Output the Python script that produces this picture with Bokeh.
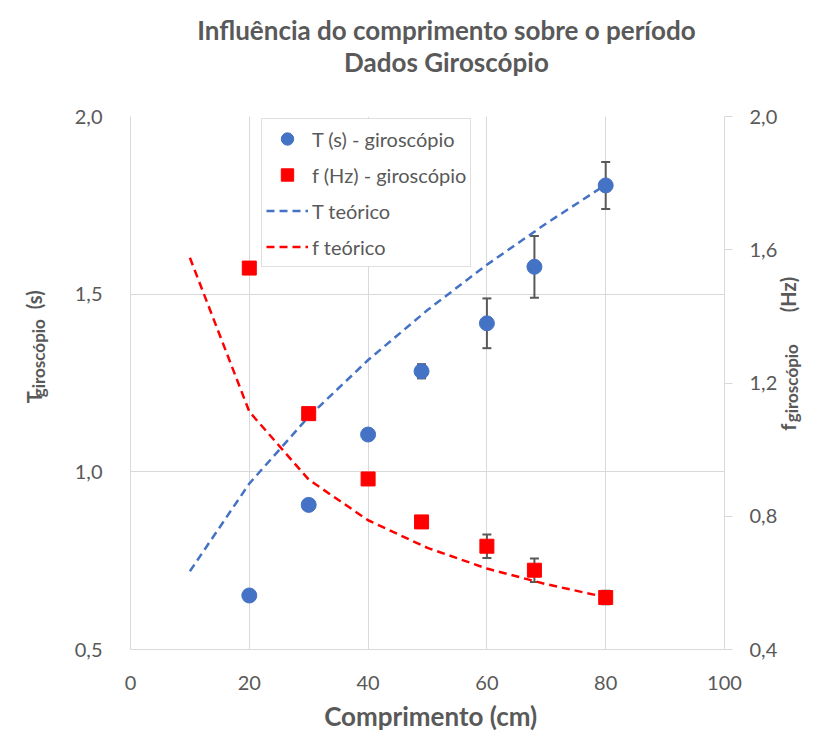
import math
from bokeh.plotting import figure
from bokeh.models import (Range1d, LinearAxis, FixedTicker, CustomJSTickFormatter, Title,
                          ColumnDataSource, Whisker, TeeHead, Legend, LegendItem)
from bokeh.embed import file_html
from bokeh.resources import INLINE

# ---------------- data ----------------
comprimento = [20, 30, 40, 49, 60, 68, 80]           # cm
T_giro = [0.652, 0.907, 1.105, 1.283, 1.418, 1.577, 1.806]   # s
T_err = [0.0, 0.0, 0.0, 0.02, 0.07, 0.087, 0.066]
f_giro = [1.545, 1.108, 0.912, 0.783, 0.710, 0.638, 0.556]   # Hz
f_err = [0.0, 0.0, 0.0, 0.0, 0.035, 0.035, 0.02]

L_teo = [10, 20, 30, 40, 50, 60, 70, 80]
T_teo = [0.635, 0.898, 1.099, 1.269, 1.419, 1.555, 1.679, 1.795]
f_teo = [1.576, 1.114, 0.910, 0.788, 0.705, 0.643, 0.596, 0.557]

x_ticks = [0, 20, 40, 60, 80, 100]
T_ticks = [0.5, 1.0, 1.5, 2.0]
f_ticks = [0.4, 0.8, 1.2, 1.6, 2.0]

# ---------------- style ----------------
FONT = "Lato"
TXT = "#595959"
GRID = "#d9d9d9"
BLUE = "#4472C4"
RED = "#FF0000"
NBSP_EM = 0.238
NB = "\u00a0"

def gap(px, size):
    return NB * max(0, round(px / (NBSP_EM * size)))

p = figure(width=815, height=748, x_range=Range1d(0, 100), y_range=Range1d(0.5, 2.0),
           output_backend="svg", toolbar_location=None,
           min_border_left=130, min_border_right=89, min_border_top=116, min_border_bottom=99,
           background_fill_color="white", border_fill_color="white", outline_line_color=None)
p.extra_y_ranges = {"f": Range1d(0.4, 2.0)}

fmt = CustomJSTickFormatter(code="return tick.toFixed(1).replace('.', ',');")

def bold_label(ax, text, size, standoff):
    ax.axis_label = text
    ax.axis_label_standoff = standoff
    ax.axis_label_text_font = FONT
    ax.axis_label_text_font_size = size
    ax.axis_label_text_font_style = "bold"
    ax.axis_label_text_color = TXT

def blank_axis(**kw):
    return LinearAxis(ticker=FixedTicker(ticks=[]), axis_line_color=None,
                      major_tick_line_color=None, minor_tick_line_color=None,
                      major_tick_out=0, major_tick_in=0, major_label_text_font_size="0px", **kw)

xa = p.xaxis[0]
xa.ticker = FixedTicker(ticks=x_ticks)
xa.major_tick_line_color = None
xa.minor_tick_line_color = None
xa.axis_line_color = GRID
xa.major_label_standoff = 20
xa.major_label_text_font = FONT
xa.major_label_text_font_size = "20px"
xa.major_label_text_color = TXT
bold_label(xa, gap(7, 26) + "Comprimento (cm)", "26px", 7)

ya = p.yaxis[0]
ya.ticker = FixedTicker(ticks=T_ticks)
ya.formatter = fmt
ya.major_tick_line_color = None
ya.minor_tick_line_color = None
ya.axis_line_color = GRID
ya.major_label_standoff = 22
ya.major_label_text_font = FONT
ya.major_label_text_font_size = "20px"
ya.major_label_text_color = TXT
# subscript of the left title
bold_label(ya, gap(47, 17) + "giroscópio", "17px", 23)

# outer left "axis" carrying the main part of the left title: T ... (s)
yl2 = blank_axis()
bold_label(yl2, gap(70, 20) + "T" + gap(81, 20) + "(s)", "20px", -21)
p.add_layout(yl2, "left")

ra = LinearAxis(y_range_name="f", ticker=FixedTicker(ticks=f_ticks), formatter=fmt,
                major_tick_out=8, major_tick_in=0, major_tick_line_color=GRID,
                minor_tick_line_color=None, axis_line_color=GRID, major_label_standoff=17,
                major_label_text_font=FONT, major_label_text_font_size="20px",
                major_label_text_color=TXT)
p.add_layout(ra, "right")
yr2 = blank_axis(y_range_name="f")
p.add_layout(yr2, "right")

# right title reads bottom-to-top as in the reference
start_ok = True
for ax in (ra, yr2):
    try:
        ax.axis_label_orientation = math.pi / 2
        ax.axis_label_align = "start"
    except Exception:
        start_ok = False
lead_f = gap(212, 20) if start_ok else ""
lead_s = gap(222, 17) if start_ok else ""
bold_label(ra, lead_f + "f" + gap(109, 20) + "(Hz)", "20px", 8)
bold_label(yr2, lead_s + "giroscópio", "17px", -24)

p.xgrid.ticker = FixedTicker(ticks=[20, 40, 60, 80])
p.ygrid.ticker = FixedTicker(ticks=[1.0, 1.5, 2.0])
p.xgrid.grid_line_color = GRID
p.ygrid.grid_line_color = GRID

# chart title (two lines) + spacer between it and the plot area
def add_title(text, size, standoff):
    p.add_layout(Title(text=text, align="center", standoff=standoff, text_font=FONT,
                       text_font_size=size, text_font_style="bold", text_color=TXT), "above")

add_title(NB, "1px", 36)
add_title(gap(37, 26) + "Dados Giroscópio", "26px", 0)
add_title(gap(37, 26) + "Influência do comprimento sobre o período", "26px", -4)

# theoretical curves (both drawn against the secondary axis, as in the reference)
lt = p.line(L_teo, T_teo, y_range_name="f", line_color=BLUE, line_width=2.5, line_dash="8 5")
lf = p.line(L_teo, f_teo, y_range_name="f", line_color=RED, line_width=2.5, line_dash="8 5")

# error bars
def err_source(xs, ys, es):
    sel = [i for i, e in enumerate(es) if e > 0]
    return ColumnDataSource(dict(x=[xs[i] for i in sel],
                                 upper=[ys[i] + es[i] for i in sel],
                                 lower=[ys[i] - es[i] for i in sel]))

for src, rng in ((err_source(comprimento, T_giro, T_err), "default"),
                 (err_source(comprimento, f_giro, f_err), "f")):
    w = Whisker(source=src, base="x", upper="upper", lower="lower", dimension="height",
                line_color=TXT, line_width=2, level="underlay", y_range_name=rng,
                upper_head=TeeHead(size=9, line_color=TXT, line_width=2),
                lower_head=TeeHead(size=9, line_color=TXT, line_width=2))
    p.add_layout(w)

rc = p.scatter(comprimento, T_giro, marker="circle", size=15, fill_color=BLUE, line_color=BLUE)
rs = p.scatter(comprimento, f_giro, marker="square", size=14, y_range_name="f",
               fill_color=RED, line_color=RED)

legend = Legend(items=[LegendItem(label="T (s) - giroscópio", renderers=[rc]),
                       LegendItem(label="f (Hz) - giroscópio", renderers=[rs]),
                       LegendItem(label="T teórico", renderers=[lt]),
                       LegendItem(label="f teórico", renderers=[lf])],
                location=(131, 382), border_line_color="#bfbfbf", border_line_width=1,
                background_fill_color="white", background_fill_alpha=1.0,
                label_text_color=TXT, label_text_font=FONT, label_text_font_size="20px",
                glyph_width=42, glyph_height=31, label_height=31, spacing=5, padding=4,
                margin=0, label_standoff=4)
p.add_layout(legend)

open("out.html", "w").write(file_html(p, INLINE))
